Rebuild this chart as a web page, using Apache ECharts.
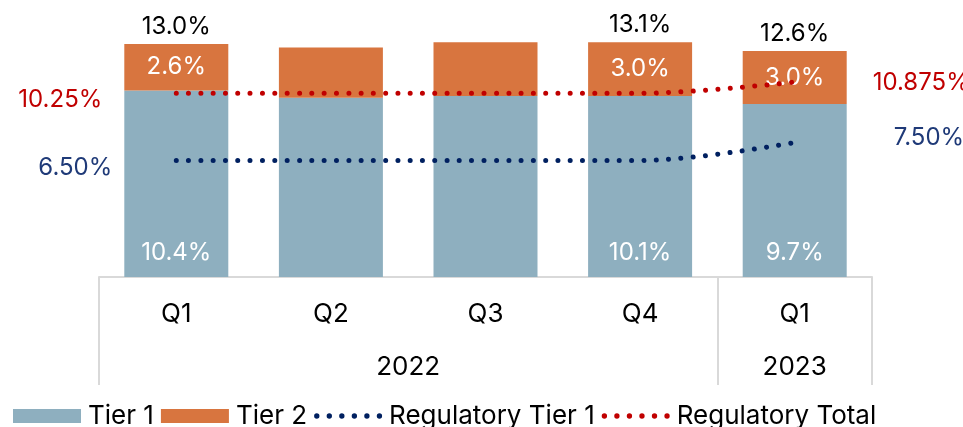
<!DOCTYPE html>
<html>
<head>
<meta charset="utf-8">
<script src="https://cdn.jsdelivr.net/npm/echarts@6/dist/echarts.min.js"></script>
<style>
  html, body { margin: 0; padding: 0; background: #ffffff; }
  #chart { width: 963px; height: 427px; }
</style>
</head>
<body>
<div id="chart"></div>
<script>
// Capital ratios by quarter (%)
const quarters = ['Q1', 'Q2', 'Q3', 'Q4', 'Q1'];
const yearLabels = ['2022', '2023'];
const yearLabelPos = [2, 4.5];       // centre of each year's span, in category units
const yearBounds = [0, 4, 5];        // year separators, in category units

const tier1 = [10.4, 10.0, 10.1, 10.1, 9.65];
const tier2 = [2.6, 2.8, 3.0, 3.0, 2.95];
const regTier1 = [6.5, 6.5, 6.5, 6.5, 7.5];
const regTotal = [10.25, 10.25, 10.25, 10.25, 10.875];
const showValue = [true, false, false, true, true];

const totals = tier1.map((v, i) => v + tier2[i]);

const FONT = 'Inter';
const TIER1_COLOR = '#8eafbf';
const TIER2_COLOR = '#d8753f';
const RED = '#c00000';
const NAVY = '#002060';
const NAVY_TEXT = '#1f3a78';

const pct1 = v => v.toFixed(1) + '%';

// Row of six dots used as the legend icon for the dotted regulatory lines
function dotRowPath(count, r, step) {
  let d = '';
  for (let i = 0; i < count; i++) {
    const cx = r + i * step;
    d += 'M' + (cx - r) + ' ' + r + 'a' + r + ' ' + r + ' 0 1 0 ' + (2 * r) + ' 0' +
         'a' + r + ' ' + r + ' 0 1 0 ' + (-2 * r) + ' 0Z';
  }
  return 'path://' + d;
}
const DOT_ICON = dotRowPath(6, 2.6, 12.2);

function barData(values) {
  return values.map((v, i) => ({ value: v, label: { show: showValue[i] } }));
}

function regLabel(text, color, position, distance, offset) {
  return { show: true, position, distance, offset, formatter: text,
           color, fontSize: 24, fontFamily: FONT };
}

function regData(values, color, leftDist, leftOff, rightDist, rightOff) {
  const last = values.length - 1;
  return values.map((v, i) => {
    if (i === 0) {
      return { value: v, label: regLabel(v.toFixed(2) + '%', color, 'left', leftDist, leftOff) };
    }
    if (i === last) {
      const decimals = (String(v).split('.')[1] || '').length > 2 ? 3 : 2;
      return { value: v, label: regLabel(v.toFixed(decimals) + '%', color, 'right', rightDist, rightOff) };
    }
    return v;
  });
}

const dotted = (color) => ({
  color: color,
  width: 5,
  type: [0.01, 12.3],
  cap: 'round'
});

const chart = echarts.init(document.getElementById('chart'), null, { renderer: 'canvas' });

chart.setOption({
  animation: false,
  textStyle: { fontFamily: FONT },
  grid: { left: 99, right: 91, top: 26, height: 251, containLabel: false },
  legend: {
    left: 8,
    top: 398,
    itemWidth: 68,
    itemHeight: 14,
    itemGap: 7,
    textStyle: { fontSize: 26, color: '#000000', fontFamily: FONT, padding: [0, 0, 0, 2] },
    data: [
      { name: 'Tier 1', icon: 'rect' },
      { name: 'Tier 2', icon: 'rect' },
      { name: 'Regulatory Tier 1', icon: DOT_ICON, itemStyle: { color: NAVY } },
      { name: 'Regulatory Total', icon: DOT_ICON, itemStyle: { color: RED } }
    ]
  },
  xAxis: [
    {
      type: 'category',
      data: quarters,
      position: 'bottom',
      axisLine: { show: true, lineStyle: { color: '#d9d9d9', width: 2 } },
      axisTick: { show: false },
      axisLabel: { color: '#000000', fontSize: 26, fontFamily: FONT, margin: 24 },
      splitLine: { show: false }
    },
    {
      type: 'value',
      min: 0,
      max: quarters.length,
      position: 'bottom',
      axisLine: { show: false },
      splitLine: { show: false },
      axisTick: {
        show: true,
        customValues: yearBounds,
        length: 108,
        lineStyle: { color: '#d9d9d9', width: 2 }
      },
      axisLabel: {
        show: true,
        customValues: yearLabelPos,
        formatter: (v) => {
          const i = yearLabelPos.indexOf(v);
          return i >= 0 ? yearLabels[i] : '';
        },
        color: '#000000',
        fontSize: 26,
        fontFamily: FONT,
        margin: 77
      }
    }
  ],
  yAxis: {
    type: 'value',
    min: 0,
    max: 14,
    show: false,
    splitLine: { show: false }
  },
  series: [
    {
      name: 'Tier 1',
      type: 'bar',
      stack: 'capital',
      barWidth: 104,
      itemStyle: { color: TIER1_COLOR },
      label: {
        position: 'insideBottom',
        distance: 12,
        color: '#ffffff',
        fontSize: 24,
        fontFamily: FONT,
        formatter: (p) => pct1(p.value)
      },
      data: barData(tier1)
    },
    {
      name: 'Tier 2',
      type: 'bar',
      stack: 'capital',
      barWidth: 104,
      itemStyle: { color: TIER2_COLOR },
      label: {
        position: 'inside',
        color: '#ffffff',
        fontSize: 24,
        fontFamily: FONT,
        formatter: (p) => pct1(p.value)
      },
      data: barData(tier2)
    },
    {
      name: 'Total',
      type: 'line',
      symbol: 'circle',
      symbolSize: 0,
      silent: true,
      itemStyle: { color: 'transparent' },
      lineStyle: { opacity: 0 },
      label: {
        show: true,
        position: 'top',
        distance: 5,
        color: '#000000',
        fontSize: 24,
        fontFamily: FONT,
        formatter: (p) => showValue[p.dataIndex] ? pct1(p.value) : ''
      },
      z: 5,
      data: totals
    },
    {
      name: 'Regulatory Tier 1',
      type: 'line',
      smooth: 0.35,
      symbol: 'circle',
      symbolSize: 0,
      itemStyle: { color: 'transparent' },
      lineStyle: dotted(NAVY),
      z: 4,
      data: regData(regTier1, NAVY_TEXT, 64, [0, 7], 99, [0, -5])
    },
    {
      name: 'Regulatory Total',
      type: 'line',
      smooth: 0.35,
      symbol: 'circle',
      symbolSize: 0,
      itemStyle: { color: 'transparent' },
      lineStyle: dotted(RED),
      z: 4,
      data: regData(regTotal, RED, 74, [0, 7], 78, [0, 1])
    }
  ]
});
</script>
</body>
</html>
